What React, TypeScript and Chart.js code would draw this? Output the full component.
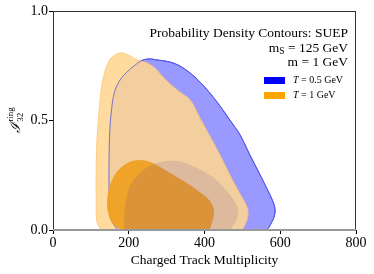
import React, { useEffect, useRef } from 'react';
import { Chart, registerables } from 'chart.js';
Chart.register(...registerables);

const xTickValues = [0, 200, 400, 600, 800];
const yTickValues = [0.0, 0.5, 1.0];

const legendLabels = ['= 0.5 GeV', '= 1 GeV'];
const titleLines = ['Probability Density Contours: SUEP', '= 125 GeV', 'm = 1 GeV'];

// T = 0.5 GeV, outer contour
const blueOuterX = [172, 156, 150, 148, 148, 150, 156, 164, 177, 195, 214, 232, 251, 277, 309, 335, 362, 388, 414, 441, 467, 494, 520, 547, 573, 584, 586, 578, 560];
const blueOuterY = [0, 0.037, 0.091, 0.183, 0.32, 0.457, 0.571, 0.639, 0.685, 0.721, 0.749, 0.772, 0.781, 0.776, 0.767, 0.749, 0.717, 0.676, 0.626, 0.566, 0.502, 0.434, 0.342, 0.251, 0.16, 0.114, 0.078, 0.037, 0];
// T = 1 GeV, outer contour
const orangeOuterX = [127, 116, 114, 114, 116, 122, 129, 140, 153, 169, 185, 203, 224, 248, 269, 288, 309, 335, 362, 388, 414, 441, 467, 494, 510, 515, 510, 494];
const orangeOuterY = [0, 0.037, 0.137, 0.274, 0.411, 0.548, 0.662, 0.74, 0.785, 0.804, 0.808, 0.795, 0.776, 0.763, 0.74, 0.703, 0.667, 0.63, 0.594, 0.511, 0.429, 0.342, 0.251, 0.164, 0.114, 0.078, 0.037, 0];
// T = 1 GeV, inner contour
const orangeInnerX = [182, 158, 145, 143, 151, 166, 188, 209, 230, 256, 283, 314, 349, 380, 407, 422, 425, 420, 409];
const orangeInnerY = [0, 0.027, 0.082, 0.137, 0.205, 0.26, 0.297, 0.315, 0.32, 0.311, 0.288, 0.256, 0.219, 0.183, 0.146, 0.11, 0.073, 0.037, 0];
// T = 0.5 GeV, inner contour
const blueInnerX = [188, 188, 193, 203, 222, 246, 272, 301, 330, 362, 396, 428, 454, 475, 488, 488, 478, 465];
const blueInnerY = [0, 0.068, 0.137, 0.201, 0.247, 0.283, 0.306, 0.315, 0.315, 0.297, 0.269, 0.233, 0.187, 0.142, 0.1, 0.064, 0.027, 0];

const SERIF = "'Liberation Serif', 'DejaVu Serif', serif";

function closed(xs: number[], ys: number[]) {
  const pts = xs.map((x, i) => ({ x, y: ys[i] }));
  pts.push({ ...pts[0] });
  return pts;
}

const textPlugin = {
  id: 'textPlugin',
  afterDatasetsDraw(chart: any) {
    const { ctx, chartArea } = chart;
    const { left, right, top, bottom } = chartArea;
    ctx.save();
    ctx.strokeStyle = '#333';
    ctx.lineWidth = 1;
    ctx.strokeRect(left + 0.5, top + 0.5, right - left - 1, bottom - top);
    ctx.strokeStyle = '#999';
    ctx.lineWidth = 2;
    ctx.beginPath();
    ctx.moveTo(left, bottom);
    ctx.lineTo(right, bottom);
    ctx.stroke();
    ctx.restore();
  },
  afterDraw(chart: any) {
    const { ctx, chartArea } = chart;
    const { left, right } = chartArea;
    ctx.save();
    ctx.fillStyle = '#000';
    ctx.textBaseline = 'middle';
    const rx = 348;
    const F = `13.5px ${SERIF}`;
    ctx.font = F;
    ctx.textAlign = 'right';
    ctx.fillText(titleLines[0], rx, 33);
    ctx.fillText(titleLines[2], rx, 62);
    ctx.textAlign = 'left';
    const restW = ctx.measureText(' ' + titleLines[1]).width;
    const mW = ctx.measureText('m').width;
    ctx.font = `9.5px ${SERIF}`;
    const sW = ctx.measureText('S').width;
    const x0 = rx - restW - sW - mW;
    ctx.font = F;
    ctx.fillText('m', x0, 48);
    ctx.font = `9.5px ${SERIF}`;
    ctx.fillText('S', x0 + mW, 51);
    ctx.font = F;
    ctx.fillText(' ' + titleLines[1], x0 + mW + sW, 48);

    const legColors = ['#0000ff', '#ffa500'];
    const legY = [80.5, 95.5];
    legColors.forEach((c, i) => {
      ctx.fillStyle = c;
      ctx.fillRect(264, legY[i] - 3.5, 21, 7);
      ctx.fillStyle = '#000';
      ctx.font = `italic 10px ${SERIF}`;
      ctx.fillText('T', 293, legY[i]);
      const tW = ctx.measureText('T ').width;
      ctx.font = `10px ${SERIF}`;
      ctx.fillText(legendLabels[i], 293 + tW, legY[i]);
    });

    ctx.textAlign = 'center';
    ctx.font = F;
    ctx.fillText('Charged Track Multiplicity', (left + right) / 2, 260);

    ctx.translate(20, 120);
    ctx.rotate(-Math.PI / 2);
    ctx.textAlign = 'left';
    ctx.textBaseline = 'alphabetic';
    ctx.font = `italic 14px ${SERIF}`;
    const iW = ctx.measureText('\u2110').width;
    ctx.font = `9px ${SERIF}`;
    const ringW = ctx.measureText('ring').width;
    const total = iW + 1 + ringW;
    const sx = -total / 2;
    ctx.font = `italic 14px ${SERIF}`;
    ctx.fillText('\u2110', sx, 0);
    ctx.font = `9px ${SERIF}`;
    ctx.fillText('ring', sx + iW + 1, -7);
    ctx.fillText('32', sx + iW + 1, 3);
    ctx.restore();
  },
};

export default function App() {
  const ref = useRef<HTMLCanvasElement>(null);
  useEffect(() => {
    if (!ref.current) return;
    const common = { showLine: true, pointRadius: 0, tension: 0.35 };
    // Chart.js paints datasets from last to first: the first entry ends on top.
    const chart = new Chart(ref.current, {
      type: 'scatter',
      data: {
        datasets: [
          {
            ...common,
            data: closed(blueInnerX, blueInnerY),
            backgroundColor: 'rgba(100,60,150,0.15)',
            borderColor: 'rgba(0,0,0,0)',
            borderWidth: 0,
            fill: 'shape',
          },
          {
            ...common,
            data: closed(orangeInnerX, orangeInnerY),
            backgroundColor: 'rgba(238,160,34,0.95)',
            borderColor: 'rgba(238,160,34,0)',
            borderWidth: 0,
            fill: 'shape',
          },
          {
            ...common,
            data: closed(blueOuterX, blueOuterY),
            borderColor: 'rgba(90,90,220,0.75)',
            borderWidth: 1,
            fill: false,
          },
          {
            ...common,
            data: closed(orangeOuterX, orangeOuterY),
            backgroundColor: 'rgba(255,214,146,0.88)',
            borderColor: 'rgba(255,195,110,0.8)',
            borderWidth: 1,
            fill: 'shape',
          },
          {
            ...common,
            data: closed(blueOuterX, blueOuterY),
            backgroundColor: 'rgb(153,153,255)',
            borderColor: 'rgba(70,70,255,1)',
            borderWidth: 1,
            fill: 'shape',
          },
        ] as any,
      },
      options: {
        responsive: false,
        animation: false,
        layout: { padding: { top: 11, right: 18, left: 0, bottom: 0 } },
        plugins: { legend: { display: false }, tooltip: { enabled: false } },
        scales: {
          x: {
            type: 'linear',
            min: 0,
            max: 800,
            afterFit: (s: any) => { s.height = 44; },
            afterBuildTicks: (s: any) => { s.ticks = xTickValues.map((v) => ({ value: v })); },
            ticks: {
              color: '#000',
              font: { family: SERIF, size: 14 },
              padding: 1,
              maxRotation: 0,
              callback: (v: any) => String(v),
            },
            grid: { drawOnChartArea: false, drawTicks: true, tickLength: 4, tickColor: '#000' },
            border: { display: false },
          },
          y: {
            type: 'linear',
            min: 0,
            max: 1,
            afterFit: (s: any) => { s.width = 53; },
            afterBuildTicks: (s: any) => { s.ticks = yTickValues.map((v) => ({ value: v })); },
            ticks: {
              color: '#000',
              font: { family: SERIF, size: 14 },
              padding: 1,
              callback: (v: any) => Number(v).toFixed(1),
            },
            grid: { drawOnChartArea: false, drawTicks: true, tickLength: 4, tickColor: '#000' },
            border: { display: false },
          },
        },
      } as any,
      plugins: [textPlugin],
    });
    return () => chart.destroy();
  }, []);
  return (
    <div style={{ position: 'fixed', left: 0, top: 0, width: 374, height: 274, background: '#fff' }}>
      <canvas ref={ref} width={374} height={274} style={{ display: 'block' }} />
    </div>
  );
}
